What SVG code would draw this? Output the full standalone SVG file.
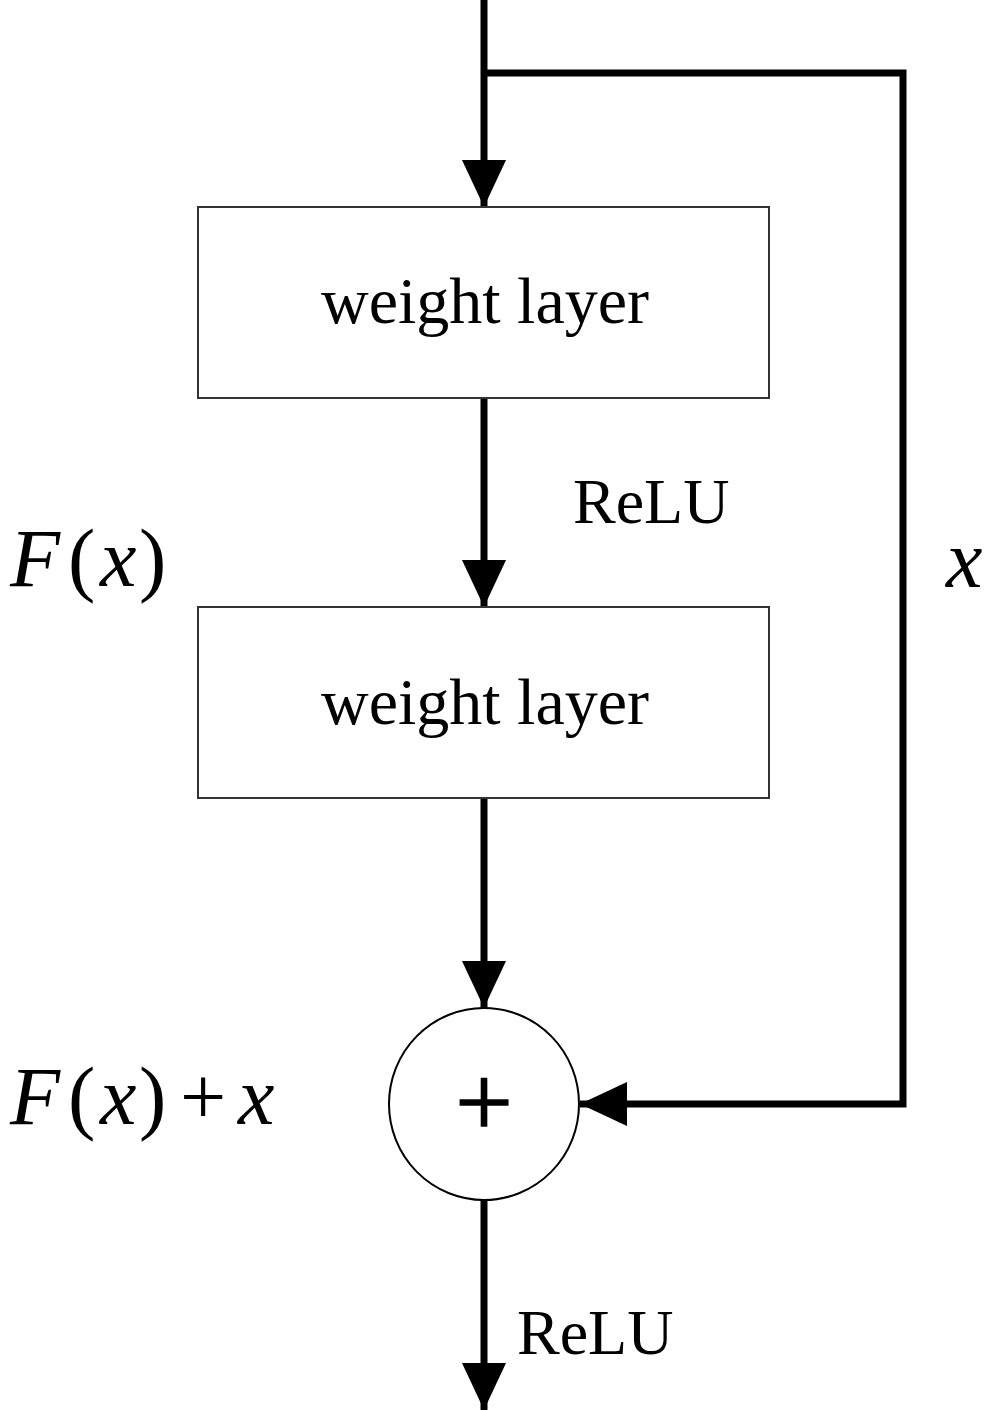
<svg xmlns="http://www.w3.org/2000/svg" width="996" height="1410" viewBox="0 0 996 1410">
<style>
  .box { fill: #ffffff; stroke: #333333; stroke-width: 2; }
  .wire { fill: none; stroke: #000000; stroke-width: 7; stroke-linejoin: miter; }
  .lbl { font-family: "Liberation Serif", "Times New Roman", serif; fill: #000000; }
  .it { font-style: italic; }
</style>
<defs>
  <marker id="ah" markerUnits="userSpaceOnUse" markerWidth="48" markerHeight="44" refX="47" refY="22" orient="auto">
    <path d="M0,0 L47,22 L0,44 z" fill="#000000"/>
  </marker>
</defs>
<rect width="996" height="1410" fill="#ffffff"/>
<g id="connectors">
  <line class="wire" x1="484" y1="0" x2="484" y2="207" marker-end="url(#ah)"/>
  <polyline class="wire" points="484,73 903,73 903,1104 580,1104" marker-end="url(#ah)"/>
  <line class="wire" x1="484" y1="398" x2="484" y2="607" marker-end="url(#ah)"/>
  <line class="wire" x1="484" y1="798" x2="484" y2="1008" marker-end="url(#ah)"/>
  <line class="wire" x1="484" y1="1200" x2="484" y2="1410" marker-end="url(#ah)"/>
</g>
<g id="weight1">
  <rect class="box" x="198" y="207" width="571" height="191"/>
  <text class="lbl" x="485" y="323" font-size="66" text-anchor="middle">weight layer</text>
</g>
<g id="weight2">
  <rect class="box" x="198" y="607" width="571" height="191"/>
  <text class="lbl" x="485" y="724" font-size="66" text-anchor="middle">weight layer</text>
</g>
<g id="sum">
  <ellipse cx="484" cy="1104" rx="95" ry="96" fill="#ffffff" stroke="#000000" stroke-width="2"/>
  <text class="lbl" x="484" y="1136" font-size="102" text-anchor="middle" stroke="#000000" stroke-width="1.5">+</text>
</g>
<g id="labels">
  <text class="lbl" x="573" y="523" font-size="64">ReLU</text>
  <text class="lbl" x="517" y="1354" font-size="64">ReLU</text>
  <text class="lbl it" x="946" y="587" font-size="82">x</text>
  <text class="lbl" y="586" font-size="82"><tspan class="it" x="10">F</tspan><tspan x="68">(</tspan><tspan class="it" x="100">x</tspan><tspan x="139">)</tspan></text>
  <text class="lbl" y="1124" font-size="82"><tspan class="it" x="10">F</tspan><tspan x="68">(</tspan><tspan class="it" x="100">x</tspan><tspan x="139">)</tspan><tspan x="180">+</tspan><tspan class="it" x="238">x</tspan></text>
</g>
</svg>
